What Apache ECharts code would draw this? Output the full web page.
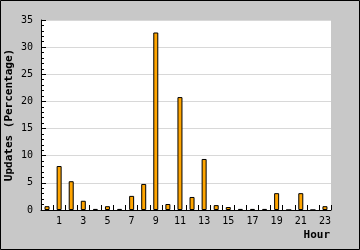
<!DOCTYPE html>
<html>
<head>
<meta charset="utf-8">
<script src="https://cdn.jsdelivr.net/npm/echarts@6/dist/echarts.min.js"></script>
<style>html,body{margin:0;padding:0;background:#c8c8c8}#c{width:360px;height:250px}</style>
</head>
<body>
<div id="c"></div>
<script>
var hours = ['0','1','2','3','4','5','6','7','8','9','10','11','12','13','14','15','16','17','18','19','20','21','22','23'];
var updates = [0.7, 8.1, 5.3, 1.7, 0.2, 0.7, 0.2, 2.6, 4.8, 32.7, 1.1, 20.8, 2.4, 9.4, 0.9, 0.55, 0.2, 0.2, 0.2, 3.1, 0, 3.1, 0, 0.7];
var yTicks = [0, 5, 10, 15, 20, 25, 30, 35];

var chart = echarts.init(document.getElementById('c'), null, {renderer: 'canvas'});
var mono = 'DejaVu Sans Mono';
chart.setOption({
  animation: false,
  backgroundColor: '#c8c8c8',
  grid: {left: 41, right: 29, top: 20, bottom: 40, show: true, backgroundColor: '#ffffff', borderWidth: 0, containLabel: false, outerBoundsMode: 'none'},
  graphic: [{
    type: 'rect', silent: true, z: 100,
    shape: {x: 0.5, y: 0.5, width: 359, height: 249},
    style: {fill: 'none', stroke: '#000', lineWidth: 1}
  }],
  xAxis: {
    type: 'category',
    data: hours,
    name: 'Hour',
    nameLocation: 'end',
    nameGap: -1,
    nameMoveOverlap: false,
    nameTextStyle: {fontFamily: mono, fontWeight: 'bold', fontSize: 11, color: '#000', align: 'right', verticalAlign: 'top', padding: [20, 0, 0, 0]},
    axisLine: {lineStyle: {color: '#000', width: 1}},
    axisTick: {show: true, inside: true, length: 5, interval: 0, alignWithLabel: false, lineStyle: {color: '#000'}},
    axisLabel: {
      interval: function (i) { return i % 2 === 1; },
      margin: 6, fontFamily: mono, fontSize: 10, color: '#000'
    },
    splitLine: {show: false}
  },
  yAxis: {
    type: 'value',
    min: yTicks[0],
    max: yTicks[yTicks.length - 1],
    interval: 5,
    name: 'Updates (Percentage)',
    nameLocation: 'middle',
    nameRotate: 90,
    nameGap: 26,
    nameMoveOverlap: false,
    nameTextStyle: {fontFamily: mono, fontWeight: 'bold', fontSize: 11, color: '#000'},
    axisLine: {show: true, lineStyle: {color: '#000', width: 1}},
    axisTick: {show: true, inside: true, length: 5, lineStyle: {color: '#000'}},
    minorTick: {show: true, splitNumber: 5, length: 3, lineStyle: {color: '#000'}},
    axisLabel: {margin: 8, fontFamily: mono, fontSize: 10, color: '#000'},
    splitLine: {show: true, lineStyle: {color: '#d8d8d8', width: 1}}
  },
  series: [{
    type: 'bar',
    data: updates,
    barWidth: 5,
    itemStyle: {color: '#ffa500', borderColor: '#000', borderWidth: 1}
  }]
});
</script>
</body>
</html>
